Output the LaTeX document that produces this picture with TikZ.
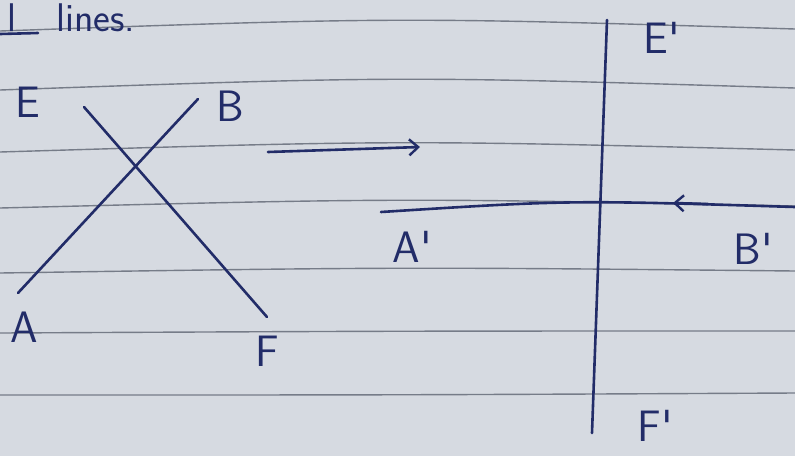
\documentclass[tikz,border=0pt]{standalone}
\usetikzlibrary{arrows.meta}

\definecolor{paper}{RGB}{214,218,225}
\definecolor{rulegray}{RGB}{118,124,136}
\definecolor{ink}{RGB}{34,44,104}

\tikzset{
  pen/.style={ink, line width=2.6pt, line cap=round},
  ruled/.style={rulegray, line width=1.4pt},
  lbl/.style={ink, font=\fontsize{44}{48}\sffamily},
  tip/.style={-{Straight Barb[length=9pt,width=16pt,line width=2.4pt]}}
}

\begin{document}
\begin{tikzpicture}[x=1pt,y=-1pt]
  \fill [paper] (0,0) rectangle (795,456);
  \useasboundingbox (0,0) rectangle (795,456);

  % ruled lines of the page
  \foreach \y/\b in {24/7, 83/7, 146/6, 203/5, 270/3, 332/1, 395/0} {
    \draw [ruled] (0,\y+\b) .. controls (400,\y-\b) .. (795,\y+\b-2);
  }

  % heading
  \node [lbl, font=\fontsize{40}{44}\sffamily, anchor=base west] (title) at (4,31) {l\quad lines.};
  \draw [pen] (0,34) -- (38,33);

  % crossing lines
  \coordinate (A) at (18,293);
  \coordinate (B) at (198,99);
  \coordinate (E) at (84,107);
  \coordinate (F) at (267,317);
  \draw [pen] (A) -- (B);
  \draw [pen] (E) -- (F);
  \node [lbl] (labE) at (28,102) {E};
  \node [lbl] (labB) at (230,106) {B};
  \node [lbl] (labA) at (24,327) {A};
  \node [lbl] (labF) at (267,351) {F};

  % arrow between the two figures
  \coordinate (p) at (268,152);
  \coordinate (q) at (420,147);
  \draw [pen, tip] (p) -- (q);

  % perpendicular lines
  \coordinate (E1) at (607,20);
  \coordinate (F1) at (592,433);
  \coordinate (A1) at (381,212);
  \coordinate (B1) at (795,207);
  \draw [pen] (E1) -- (F1);
  \draw [pen] (A1) .. controls (570,200) .. (B1);
  \coordinate (m1) at (708,204);
  \coordinate (m2) at (673,203);
  \draw [pen, tip] (m1) -- (m2);
  \node [lbl] (labE1) at (662,38) {E\textquotesingle};
  \node [lbl] (labA1) at (412,247) {A\textquotesingle};
  \node [lbl] (labB1) at (753,249) {B\textquotesingle};
  \node [lbl, inner sep=1pt, anchor=base] (labF1) at (655,441) {F\textquotesingle};
\end{tikzpicture}
\end{document}
